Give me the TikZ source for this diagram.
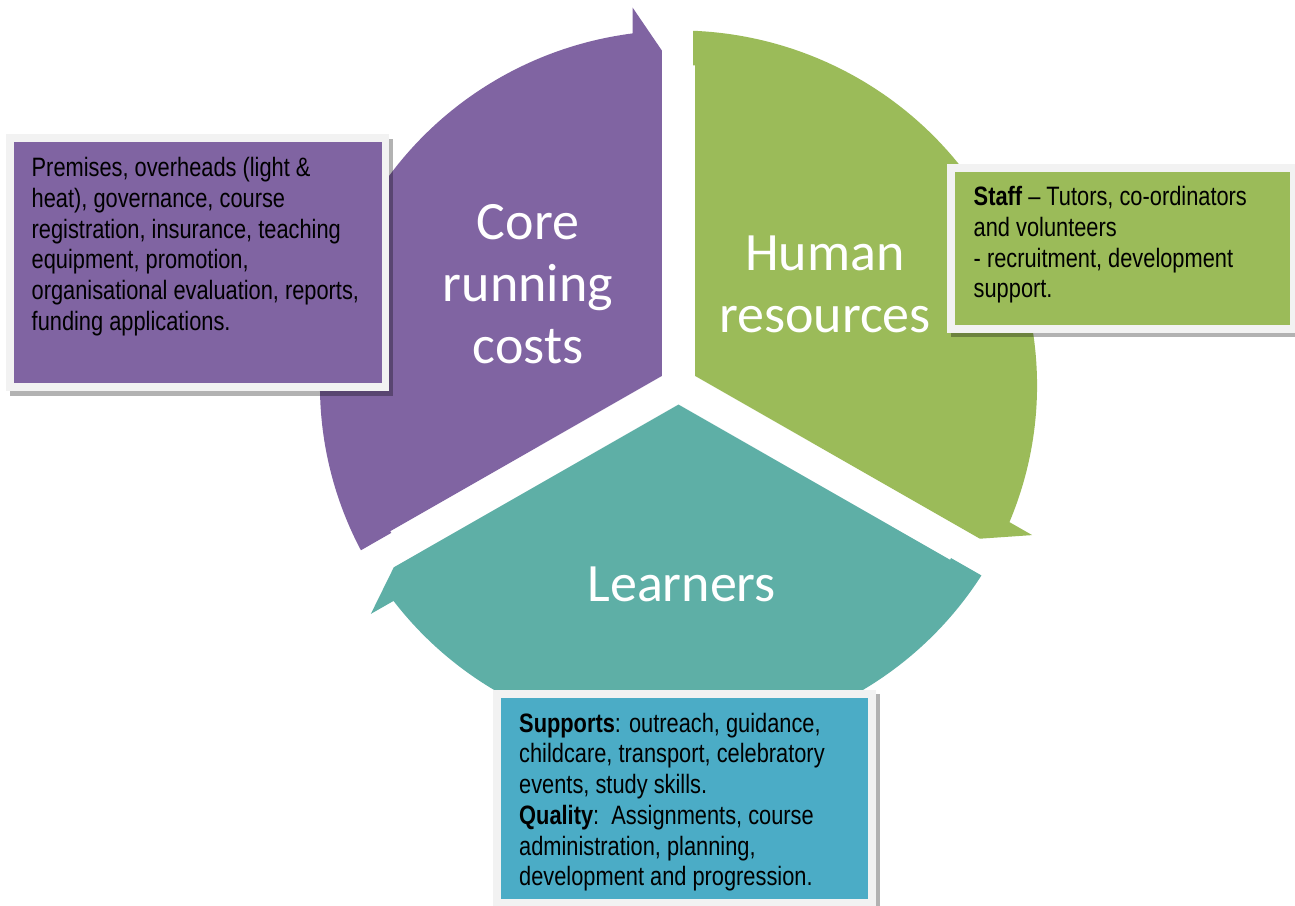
\documentclass[tikz,border=0pt]{standalone}
\usepackage{fontspec}
\setmainfont{Liberation Sans}
\newfontfamily\narrowfont[FakeStretch=0.82]{Liberation Sans}
\newfontfamily\calibfont{Carlito}
\definecolor{cpurple}{HTML}{8064A2}
\definecolor{cgreen}{HTML}{9BBB59}
\definecolor{cteal}{HTML}{5EAFA6}
\definecolor{cblue}{HTML}{4BACC6}
\definecolor{cframe}{HTML}{F2F2F2}
\tikzset{
  boxtext/.style={anchor=north west, inner sep=0pt, align=left, text=black,
    font=\narrowfont\fontsize{26.6}{30.7}\selectfont},
  bigtext/.style={inner sep=0pt, align=center, text=white,
    font=\calibfont\fontsize{54}{62}\selectfont},
  boxshadow/.style={fill=black, fill opacity=0.3},
  boxframe/.style={fill=cframe}
}
\begin{document}
\begin{tikzpicture}[x=1pt,y=1pt]
\useasboundingbox (0,0) rectangle (1295,905);
\clip (0,0) rectangle (1295,905);
\fill[white] (0,0) rectangle (1295,905);

% cycle segments
\begin{scope}[shift={(678.5,519.5)}, xscale=1.01]
  \fill[cpurple] (-16.5,9.53) -- (-16.5,335) -- (-45.5,378) -- (-45.5,352.07)
    arc[start angle=97.36, end angle=207.66, radius=355]
    -- (-284.4,-147.4) -- (-285.4,-145.7) -- cycle;
  \begin{scope}[rotate=-120]
  \fill[cgreen] (-16.5,9.53) -- (-16.5,335) -- (-45.5,378) -- (-45.5,352.07)
    arc[start angle=97.36, end angle=207.66, radius=355]
    -- (-284.4,-147.4) -- (-285.4,-145.7) -- cycle;
  \end{scope}
  \begin{scope}[rotate=120]
  \fill[cteal] (-16.5,9.53) -- (-16.5,335) -- (-45.5,378) -- (-45.5,352.07)
    arc[start angle=97.36, end angle=207.66, radius=355]
    -- (-284.4,-147.4) -- (-285.4,-145.7) -- cycle;
  \end{scope}
\end{scope}

% segment labels
\node[bigtext, anchor=north] (core) at (528,706) {\rule{0pt}{40pt}Core\\running\\costs};
\node[bigtext, anchor=north] (human) at (825,675) {\rule{0pt}{40pt}Human\\resources};
\node[bigtext, anchor=base] (learners) at (681.7,303) {Learners};

% purple box
\fill[boxshadow] (10,766) rectangle (393,509);
\fill[boxframe] (6,771) rectangle (389,514);
\fill[cpurple] (14,763) rectangle (382,522);
\node[boxtext] (coretext) at (31.5,748.5) {\rule{0pt}{20pt}Premises, overheads (light \&\\heat), governance, course\\registration, insurance, teaching\\equipment, promotion,\\organisational evaluation, reports,\\funding applications.};

% green box
\fill[boxshadow] (950.7,737) rectangle (1302,568);
\fill[boxframe] (946.7,741) rectangle (1298,572);
\fill[cgreen] (955,733.3) rectangle (1290,580);
\node[boxtext] (humantext) at (973.5,719.5) {\rule{0pt}{20pt}\textbf{Staff} – Tutors, co-ordinators\\and volunteers\\- recruitment, development\\support.};

% teal box
\fill[boxshadow] (496.7,211) rectangle (880,-7);
\fill[boxframe] (492.7,215) rectangle (876,-3);
\fill[cblue] (500.7,206.7) rectangle (868.3,5.7);
\node[boxtext] (learnertext) at (519,193) {\rule{0pt}{20pt}\textbf{Supports}: outreach, guidance,\\childcare, transport, celebratory\\events, study skills.\\\textbf{Quality}:\ \ Assignments, course\\administration, planning,\\development and progression.};
\end{tikzpicture}
\end{document}
